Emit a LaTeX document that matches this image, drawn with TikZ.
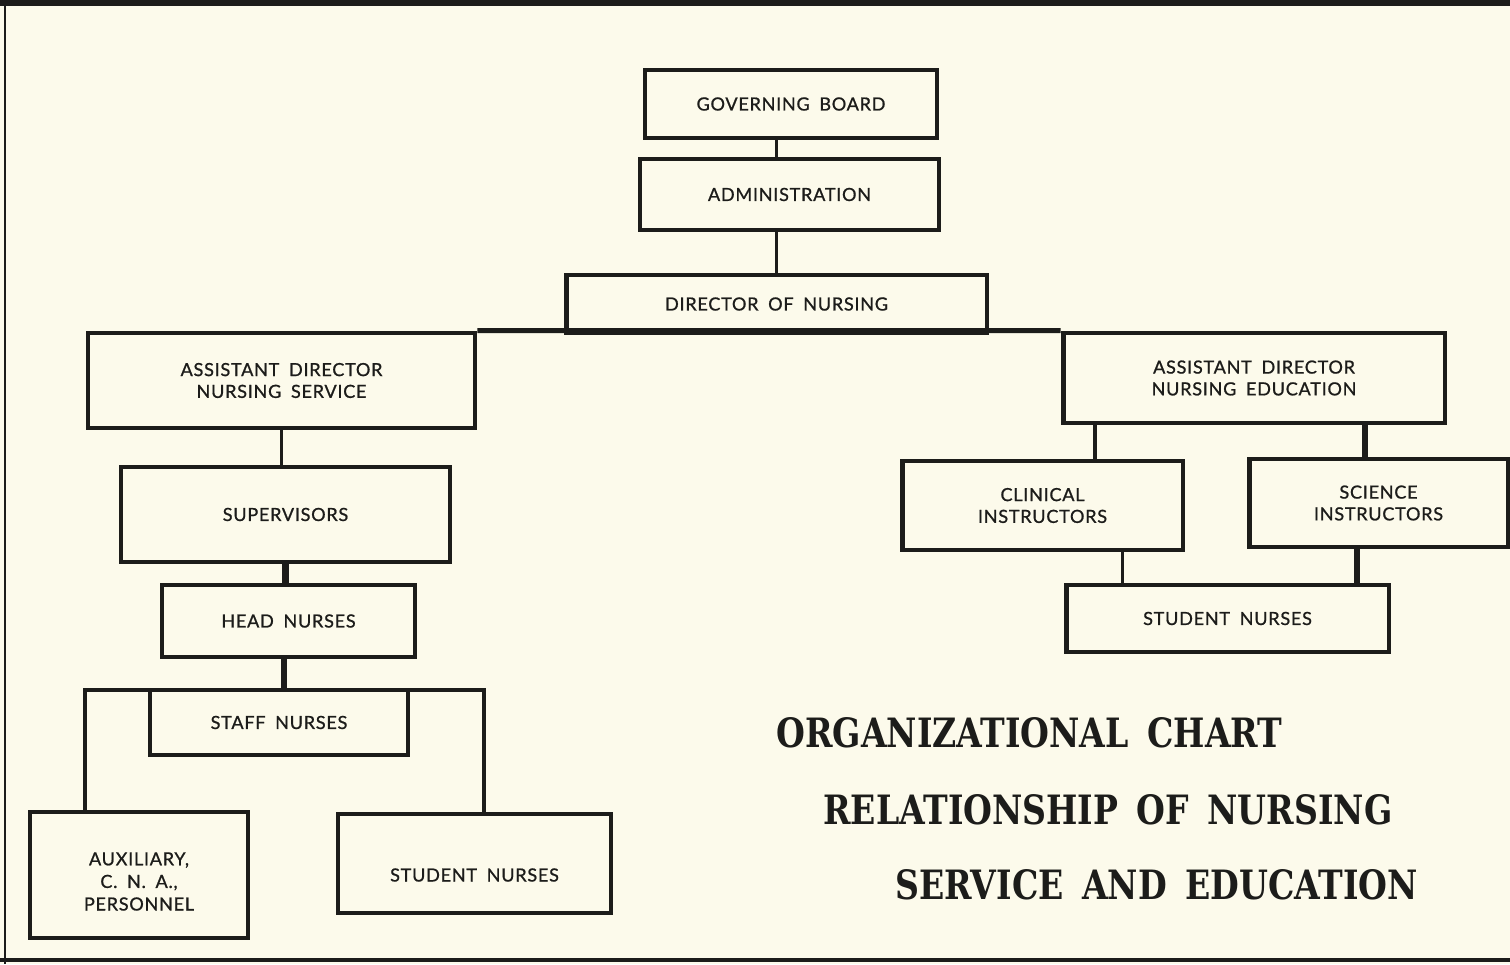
\documentclass[tikz,border=0pt]{standalone}
\usepackage{fontspec}
\setmainfont{Lato}
\newfontfamily\boxfont[LetterSpace=4,WordSpace=1.8,FakeBold=0.9]{Lato}
\newfontfamily\titlefont[FakeStretch=0.82,WordSpace=1.6]{DejaVu Serif}
\definecolor{paper}{HTML}{FCFAEB}
\definecolor{ink}{HTML}{1C1C1A}
\tikzset{
  box/.style={draw=ink, line width=2.8pt, fill=paper, text=ink, align=center,
    inner sep=0pt, font=\boxfont\fontsize{10.3}{12.4}\selectfont},
  link/.style={draw=ink, line width=2pt},
  thicklink/.style={draw=ink, line width=3.6pt},
  heading/.style={anchor=west, text=ink, inner sep=0pt,
    font=\titlefont\bfseries\fontsize{23}{26}\selectfont}
}
\begin{document}
\begin{tikzpicture}[x=0.02cm, y=-0.02cm, line join=miter, line cap=butt]
			\def\xmax{1510}
			\def\ymax{964}
			\fill[paper] (0,0) rectangle (\xmax,\ymax);
			\useasboundingbox (0,0) rectangle (\xmax,\ymax);
			% frame of the sheet
			\draw[ink, line width=3.4pt] (0,3) -- (\xmax,3);
			\draw[ink, line width=1.4pt] (5,0) -- (5,\ymax);
			\draw[ink, line width=1.8pt] (0,960) -- (\xmax,960);
			% top of the chart
			\node[box, minimum width=5.84cm, minimum height=1.36cm] (gb) at (791,104) {GOVERNING BOARD};
			\node[box, minimum width=5.98cm, minimum height=1.42cm] (adm) at (789.5,194.5) {ADMINISTRATION};
			\node[box, minimum width=8.42cm, minimum height=1.16cm] (dir) at (776.5,304) {DIRECTOR OF NURSING};
			% nursing service
			\node[box, minimum width=7.74cm, minimum height=1.90cm] (adns) at (281.5,380.5) {ASSISTANT DIRECTOR\\NURSING SERVICE};
			\node[box, minimum width=6.58cm, minimum height=1.90cm] (sup) at (285.5,514.5) {SUPERVISORS};
			\node[box, minimum width=5.06cm, minimum height=1.44cm] (head) at (288.5,621) {HEAD NURSES};
			\node[box, minimum width=5.16cm, minimum height=1.30cm] (staff) at (279,722.5) {STAFF NURSES};
			\node[box, minimum width=4.36cm, minimum height=2.52cm] (aux) at (139,875) {\raisebox{-0.71cm}[0pt][0pt]{\shortstack{AUXILIARY,\\[1pt]C. N. A.,\\[1pt]PERSONNEL}}};
			\node[box, minimum width=5.46cm, minimum height=1.98cm] (stl) at (474.5,863.5) {\raisebox{-0.36cm}[0pt][0pt]{STUDENT NURSES}};
			% nursing education
			\node[box, minimum width=7.64cm, minimum height=1.80cm] (adne) at (1254,378) {ASSISTANT DIRECTOR\\NURSING EDUCATION};
			\node[box, minimum width=5.62cm, minimum height=1.78cm] (clin) at (1042.5,505.5) {CLINICAL\\INSTRUCTORS};
			\node[box, minimum width=5.18cm, minimum height=1.76cm] (sci) at (1378.5,503) {SCIENCE\\INSTRUCTORS};
			\node[box, minimum width=6.46cm, minimum height=1.34cm] (str) at (1227.5,618.5) {STUDENT NURSES};
			% connectors
			\draw[link] (gb.south -| dir.north) -- (adm.north -| dir.north);
			\draw[link] (adm.south -| dir.north) -- (dir.north);
			\draw[ink, line width=2.8pt] (adns.north east) -- (adne.north west);
			\draw[link] (adns.south) -- (adns.south |- sup.north);
			\draw[thicklink] (sup.south) -- (sup.south |- head.north);
			\draw[thicklink] ([xshift=-0.09cm]head.south) -- ([xshift=-0.09cm]head.south |- staff.north);
			\coordinate (sl) at (85,690);
			\coordinate (sr) at (484,690);
			\draw[ink, line width=2.8pt] (aux.north -| sl) -- (sl) -- (sr) -- (stl.north -| sr);
			\draw[link] ([xshift=1.05cm]clin.north) -- ([xshift=1.05cm]clin.north |- adne.south);
			\draw[thicklink] ([xshift=-0.27cm]sci.north) -- ([xshift=-0.27cm]sci.north |- adne.south);
			\draw[link] ([xshift=1.6cm]clin.south) -- ([xshift=1.6cm]clin.south |- str.north);
			\draw[thicklink] ([xshift=-0.43cm]sci.south) -- ([xshift=-0.43cm]sci.south |- str.north);
			% title
			\node[heading] (t1) at (776,733) {ORGANIZATIONAL CHART};
			\node[heading] (t2) at (823,810) {RELATIONSHIP OF NURSING};
			\node[heading] (t3) at (895,885) {SERVICE AND EDUCATION};
		\end{tikzpicture}
\end{document}
